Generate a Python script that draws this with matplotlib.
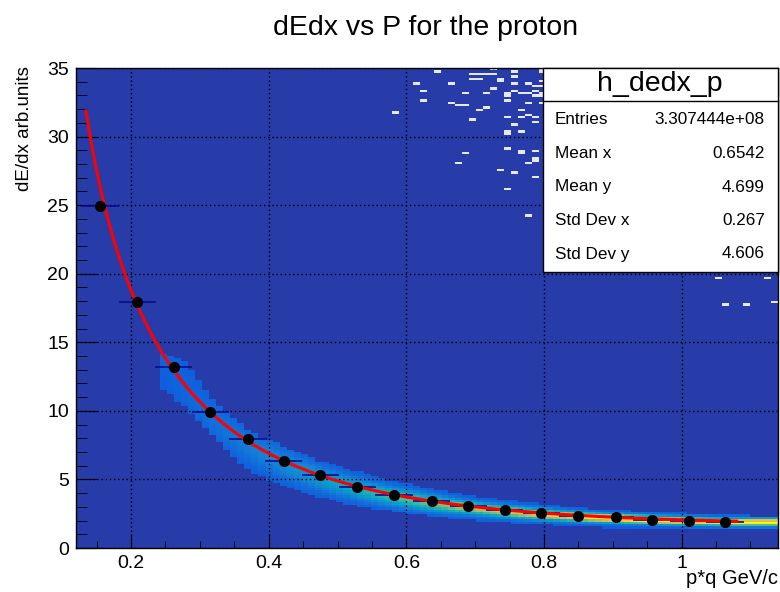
import numpy as np
import matplotlib
matplotlib.use("Agg")
import matplotlib.pyplot as plt
from matplotlib.colors import LinearSegmentedColormap, ListedColormap
from matplotlib.patches import Rectangle
from matplotlib.lines import Line2D

plt.rcParams["font.family"] = ["Liberation Sans", "DejaVu Sans"]

# -----------------------------
# PROFILE OF dE/dx (black points)
# -----------------------------
profile_x = [0.155, 0.209, 0.262, 0.315, 0.370, 0.422, 0.475, 0.529, 0.582,
             0.637, 0.690, 0.743, 0.796, 0.849, 0.904, 0.957, 1.010, 1.063]
profile_y = [24.97, 17.96, 13.22, 9.90, 7.93, 6.33, 5.29, 4.44, 3.87,
             3.41, 3.04, 2.77, 2.52, 2.32, 2.25, 2.07, 1.97, 1.88]
profile_xerr = 0.027

# samples along the fitted curve (red line)
fit_x = [0.1345, 0.1414, 0.1582, 0.191, 0.2057, 0.235, 0.262, 0.3137, 0.370,
         0.4203, 0.475, 0.529, 0.582, 0.637, 0.690, 0.743, 0.796, 0.849,
         0.904, 0.957, 1.010, 1.080]
fit_y = [31.95, 30.0, 25.3, 20.0, 18.0, 15.05, 13.2, 9.9, 7.9,
         6.37, 5.28, 4.45, 3.88, 3.42, 3.05, 2.78, 2.55, 2.40,
         2.27, 2.14, 2.04, 1.94]

# -----------------------------
# 2D HISTOGRAM: proton band
# -----------------------------
band_x = [0.245, 0.28, 0.32, 0.37, 0.42, 0.47, 0.52, 0.57, 0.62, 0.70, 0.80, 0.86, 0.95, 1.05, 1.14]
band_hi = [14.3, 13.6, 10.8, 8.6, 7.4, 6.4, 5.7, 5.0, 4.5, 3.8, 3.2, 2.9, 2.65, 2.45, 2.3]
band_lo = [11.7, 10.2, 8.1, 5.7, 4.5, 3.75, 3.1, 2.75, 2.4, 2.0, 1.7, 1.5, 1.45, 1.45, 1.45]
band_peak = [0.14, 0.16, 0.19, 0.23, 0.28, 0.34, 0.42, 0.50, 0.58, 0.70, 0.85, 0.95, 1.0, 1.0, 1.0]
band_sigma = [1.0, 1.0, 0.9, 0.8, 0.7, 0.6, 0.5, 0.45, 0.4, 0.3, 0.25, 0.22, 0.2, 0.18, 0.18]

# sparse single-entry bins far above the band
stray_x = [0.643, 0.696, 0.703, 0.713, 0.723, 0.723, 0.693, 0.703, 0.734, 0.734,
           0.754, 0.754, 0.794, 0.794, 0.794, 0.614, 0.624, 0.662, 0.724, 0.754,
           0.754, 0.744, 0.763, 0.774, 0.775, 0.785, 0.794, 0.785, 0.794, 0.786,
           0.794, 0.794, 0.684, 0.713, 0.624, 0.662, 0.673, 0.683, 0.707, 0.714,
           0.744, 0.744, 0.774, 0.584, 0.693, 0.764, 0.764, 0.774, 0.785, 0.785,
           0.760, 0.743, 0.743, 0.743, 0.764, 0.743, 0.764, 0.764, 0.785, 0.785,
           0.785, 0.774, 0.683, 0.673, 0.734, 0.754, 0.785, 0.743, 0.774,
           1.053, 1.124, 1.063, 1.094, 1.133]
stray_y = [34.8, 34.5, 34.5, 34.5, 34.6, 34.9, 34.2, 34.2, 34.25, 34.1,
           34.7, 34.4, 34.9, 34.7, 34.1, 33.8, 33.4, 33.8, 33.45, 33.8,
           33.4, 33.2, 33.1, 33.1, 33.8, 33.7, 33.65, 33.3, 33.2, 32.9,
           32.9, 32.4, 33.1, 33.1, 32.65, 32.5, 32.2, 32.3, 32.0, 32.15,
           32.95, 32.7, 32.4, 31.8, 31.2, 32.0, 31.4, 31.5, 31.4, 31.0,
           30.9, 31.4, 30.4, 30.2, 30.4, 29.1, 28.9, 28.7, 28.9, 28.5,
           28.2, 28.05, 28.7, 28.05, 27.5, 27.3, 27.0, 26.2, 24.3,
           19.7, 19.7, 17.7, 17.8, 17.9]

stats_names = ["Entries", "Mean x", "Mean y", "Std Dev x", "Std Dev y"]
stats_values = ["3.307444e+08", "0.6542", "4.699", "0.267", "4.606"]

# ROOT kBird palette
bird = ["#352a87", "#0f5cdd", "#1481d6", "#06a4ca", "#2eb7a4",
        "#87bf77", "#d1bb59", "#fec832", "#f9fb0e"]
bird_cmap = LinearSegmentedColormap.from_list("bird", bird)

x_edges = np.linspace(0.12, 1.14, 101)
y_edges = np.linspace(0.0, 35.0, 201)
x_cent = 0.5 * (x_edges[1:] + x_edges[:-1])
y_cent = 0.5 * (y_edges[1:] + y_edges[:-1])

fit_coef = np.polyfit(np.log(fit_x), np.log(fit_y), 4)


def fit_curve(x):
    return np.exp(np.polyval(fit_coef, np.log(x)))


hist = np.full((len(y_cent), len(x_cent)), np.nan)
for i, cx in enumerate(x_cent):
    if cx < band_x[0]:
        continue
    hi = np.interp(cx, band_x, band_hi)
    lo = np.interp(cx, band_x, band_lo)
    peak = np.interp(cx, band_x, band_peak)
    sig = np.interp(cx, band_x, band_sigma)
    yc = fit_curve(min(cx, 1.08)) * 0.96
    inside = (y_cent >= lo) & (y_cent <= hi)
    lev = 0.13 + (peak - 0.13) * np.exp(-0.5 * ((y_cent - yc) / sig) ** 2)
    hist[inside, i] = lev[inside]

stray = np.full_like(hist, np.nan)
ix = np.digitize(stray_x, x_edges) - 1
iy = np.digitize(stray_y, y_edges) - 1
stray[iy, ix] = 1.0

fig = plt.figure(figsize=(7.8, 5.92), dpi=100)
ax = fig.add_axes([0.0974, 0.0743, 0.9, 0.8108])
ax.set_facecolor("#273ca8")

ax.pcolormesh(x_edges, y_edges, np.ma.masked_invalid(hist), cmap=bird_cmap,
              vmin=0, vmax=1, zorder=1)
ax.pcolormesh(x_edges, y_edges, np.ma.masked_invalid(stray),
              cmap=ListedColormap(["#e4e8f6"]), vmin=0, vmax=1, zorder=1)

ax.errorbar(profile_x, profile_y, xerr=profile_xerr, fmt="none",
            ecolor="#0c0c8c", elinewidth=1.2, capsize=0, zorder=3)
xs = np.linspace(fit_x[0], fit_x[-1], 400)
ax.plot(xs, fit_curve(xs), color="#ff0000", lw=2.2, zorder=4)
ax.plot(profile_x, profile_y, "o", color="black", ms=7, zorder=5)

ax.set_xlim(0.12, 1.14)
ax.set_ylim(0, 35)
ax.set_xticks([0.2, 0.4, 0.6, 0.8, 1.0])
ax.set_xticklabels(["0.2", "0.4", "0.6", "0.8", "1"])
ax.set_xticks(np.arange(0.15, 1.14, 0.05), minor=True)
ax.set_yticks(np.arange(0, 36, 5))
ax.set_yticks(np.arange(0, 36, 1), minor=True)

ax.tick_params(axis="both", which="both", direction="in", top=False, right=False,
               labelsize=14, color="black")
ax.tick_params(axis="x", which="major", length=10.4, pad=5)
ax.tick_params(axis="x", which="minor", length=5.2)
ax.tick_params(axis="y", which="major", length=15, pad=5)
ax.tick_params(axis="y", which="minor", length=7.6)

ax.set_axisbelow(False)
ax.grid(True, which="major", color="black", linestyle=(0, (1, 2)), lw=1)
for sp in ax.spines.values():
    sp.set_linewidth(1)
    sp.set_zorder(6)

fig.text(0.546, 0.953, "dEdx vs P for the proton", ha="center", va="center",
         fontsize=20.5)
fig.text(0.997, 0.0236, "p*q GeV/c", ha="right", va="center", fontsize=14.5)
fig.text(0.032, 0.889, "dE/dx arb.units", ha="center", va="top",
         rotation=90, fontsize=13.5)

# statistics box
bx0, bx1 = 543 / 780, 778 / 780
by0, by1 = 1 - 272 / 592, 1 - 68 / 592
fig.add_artist(Rectangle((bx0, by0), bx1 - bx0, by1 - by0, transform=fig.transFigure,
                         facecolor="white", edgecolor="black", lw=1, zorder=5))
sep = 1 - 101 / 592
fig.add_artist(Line2D([bx0, bx1], [sep, sep], transform=fig.transFigure,
                      color="black", lw=1, zorder=6))
fig.text(660 / 780, 1 - 84 / 592, "h_dedx_p", ha="center", va="center",
         fontsize=20.5, zorder=7)
row_y = [120, 153.5, 187, 220.5, 254]
for name, val, ry in zip(stats_names, stats_values, row_y):
    fig.text(555 / 780, 1 - ry / 592, name, ha="left", va="center",
             fontsize=12.3, zorder=7)
    fig.text(765 / 780, 1 - ry / 592, val, ha="right", va="center",
             fontsize=12.3, zorder=7)

fig.savefig("out.png", dpi=100, facecolor="white")
